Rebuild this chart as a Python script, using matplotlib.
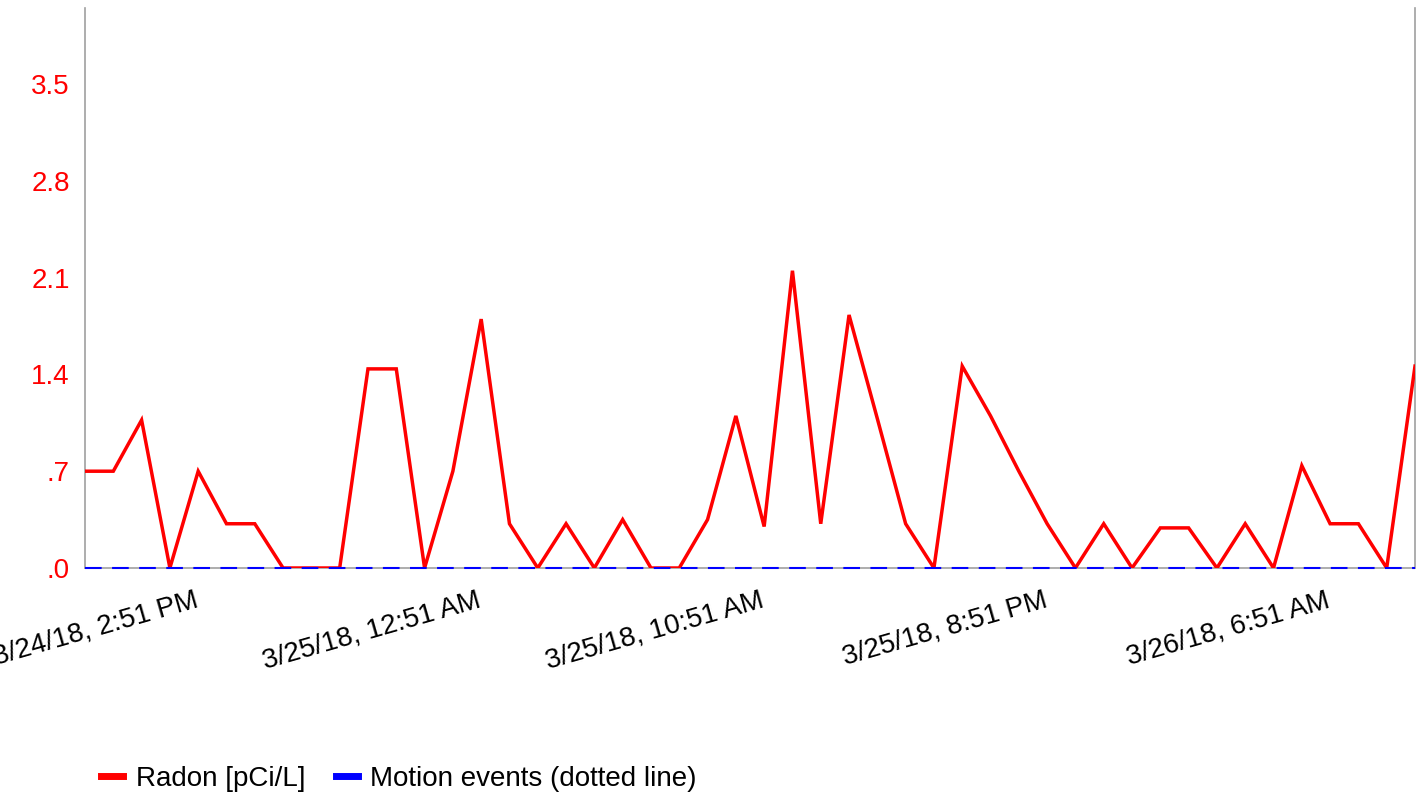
import matplotlib
matplotlib.use("Agg")
import matplotlib.pyplot as plt
import matplotlib.transforms as mtransforms
from matplotlib.lines import Line2D

plt.rcParams['font.family'] = ['Liberation Sans', 'DejaVu Sans']

# hourly readings starting 3/24/18 11:51 AM
radon = [0.70, 0.70, 1.07, 0.00, 0.70, 0.32, 0.32, 0.00, 0.00, 0.00,
         1.44, 1.44, 0.00, 0.70, 1.80, 0.32, 0.00, 0.32, 0.00, 0.35,
         0.00, 0.00, 0.35, 1.10, 0.30, 2.15, 0.32, 1.83, 1.08, 0.32,
         0.00, 1.46, 1.10, 0.70, 0.32, 0.00, 0.32, 0.00, 0.29, 0.29,
         0.00, 0.32, 0.00, 0.74, 0.32, 0.32, 0.00, 1.46]
motion = [0] * len(radon)
hours = list(range(len(radon)))

tick_idx = [3, 13, 23, 33, 43]
tick_labels = ["3/24/18, 2:51 PM", "3/25/18, 12:51 AM", "3/25/18, 10:51 AM",
               "3/25/18, 8:51 PM", "3/26/18, 6:51 AM"]
y_ticks = [0, 0.7, 1.4, 2.1, 2.8, 3.5]

fig = plt.figure(figsize=(14.2, 7.96), dpi=100)
ax = fig.add_axes([85 / 1420, 228 / 796, 1330 / 1420, 560 / 796])

ax.plot(hours, radon, color='#ff0000', lw=2.5, solid_joinstyle='miter', zorder=3)
ax.plot(hours, motion, color='#0000ff', lw=1.5, dashes=(8, 5), zorder=4, clip_on=False)

ax.set_xlim(0, len(radon) - 1)
ax.set_ylim(0, 4.05)

ax.set_yticks(y_ticks)
ax.set_yticklabels([f"{v:.1f}".lstrip("0") if v < 1 else f"{v:.1f}" for v in y_ticks])
ax.tick_params(axis='y', length=0, pad=11, labelsize=20, labelcolor='#ff0000')

ax.set_xticks(tick_idx)
ax.set_xticklabels(tick_labels)
ax.tick_params(axis='x', length=0, pad=14, labelsize=20, labelcolor='black')
offset = mtransforms.ScaledTranslation(24 / 100, 0, fig.dpi_scale_trans)
for lbl in ax.get_xticklabels():
    lbl.set_rotation(16)
    lbl.set_ha('right')
    lbl.set_rotation_mode('anchor')
    lbl.set_transform(lbl.get_transform() + offset)

for side in ['left', 'right', 'bottom']:
    ax.spines[side].set_color('#a0a0a0')
    ax.spines[side].set_linewidth(1.2)
ax.spines['top'].set_visible(False)

handles = [Line2D([], [], color='#ff0000', lw=5),
           Line2D([], [], color='#0000ff', lw=5)]
fig.legend(handles, ["Radon [pCi/L]", "Motion events (dotted line)"],
           loc='lower left', bbox_to_anchor=(76 / 1420, -0.026), ncol=2,
           frameon=False, fontsize=20, handlelength=0.8, handletextpad=0.45,
           columnspacing=1.1)

fig.savefig("out.png", dpi=100)
